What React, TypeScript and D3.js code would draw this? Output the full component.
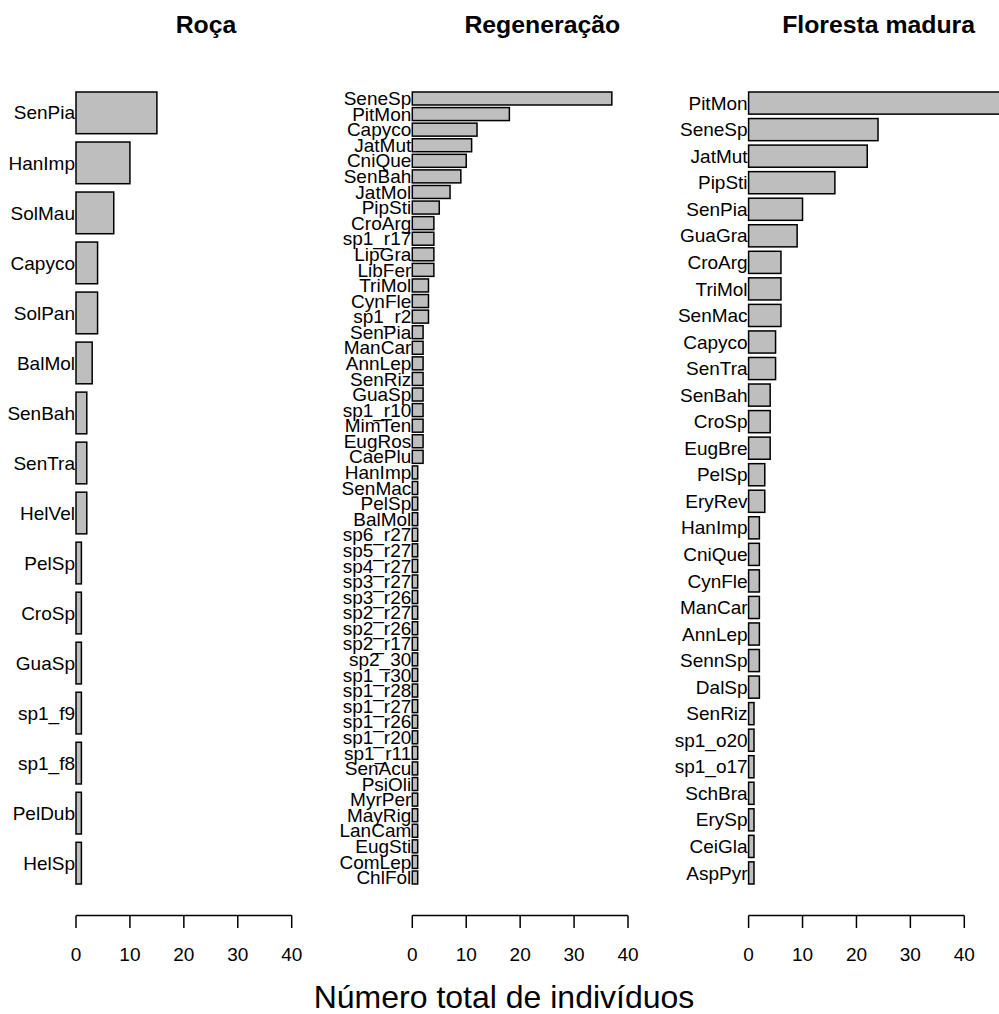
import React from "react";
import * as d3 from "d3";

const rocaSpecies = ["SenPia","HanImp","SolMau","Capyco","SolPan","BalMol","SenBah","SenTra","HelVel","PelSp","CroSp","GuaSp","sp1_f9","sp1_f8","PelDub","HelSp"];
const rocaValues = [15,10,7,4,4,3,2,2,2,1,1,1,1,1,1,1];

const regenSpecies = ["SeneSp","PitMon","Capyco","JatMut","CniQue","SenBah","JatMol","PipSti","CroArg","sp1_r17","LipGra","LibFer","TriMol","CynFle","sp1_r2","SenPia","ManCar","AnnLep","SenRiz","GuaSp","sp1_r10","MimTen","EugRos","CaePlu","HanImp","SenMac","PelSp","BalMol","sp6_r27","sp5_r27","sp4_r27","sp3_r27","sp3_r26","sp2_r27","sp2_r26","sp2_r17","sp2_30","sp1_r30","sp1_r28","sp1_r27","sp1_r26","sp1_r20","sp1_r11","SenAcu","PsiOli","MyrPer","MayRig","LanCam","EugSti","ComLep","ChlFol"];
const regenValues = [37,18,12,11,10,9,7,5,4,4,4,4,3,3,3,2,2,2,2,2,2,2,2,2,1,1,1,1,1,1,1,1,1,1,1,1,1,1,1,1,1,1,1,1,1,1,1,1,1,1,1];

const florestaSpecies = ["PitMon","SeneSp","JatMut","PipSti","SenPia","GuaGra","CroArg","TriMol","SenMac","Capyco","SenTra","SenBah","CroSp","EugBre","PelSp","EryRev","HanImp","CniQue","CynFle","ManCar","AnnLep","SennSp","DalSp","SenRiz","sp1_o20","sp1_o17","SchBra","ErySp","CeiGla","AspPyr"];
const florestaValues = [50,24,22,16,10,9,6,6,6,5,5,4,4,4,3,3,2,2,2,2,2,2,2,1,1,1,1,1,1,1];

const panelTitles = ["Roça","Regeneração","Floresta madura"];
const xTicks = [0,10,20,30,40];
const xLabel = "Número total de indivíduos";

const panels = [
  { title: panelTitles[0], species: rocaSpecies, values: rocaValues },
  { title: panelTitles[1], species: regenSpecies, values: regenValues },
  { title: panelTitles[2], species: florestaSpecies, values: florestaValues },
];

const FONT = "'Liberation Sans', Arial, Helvetica, sans-serif";
const W = 999;
const H = 1014;

function Panel({ idx, title, species, values }: { idx: number; title: string; species: string[]; values: number[] }) {
  const x0 = 76 + idx * 336.3;
  const x = d3.scaleLinear().domain([0, 40]).range([x0, x0 + 215.7]);
  const y = d3.scaleBand<string>().domain(species).range([92, 884]).paddingInner(1 / 6).paddingOuter(0);
  const axisY = 915.5;
  return (
    <g>
      <text x={x0 + 130} y={33} textAnchor="middle" fontFamily={FONT} fontWeight="bold" fontSize={24.8}>{title}</text>
      {species.map((s, i) => (
        <g key={s + i}>
          <rect x={x(0)} y={y(s)} width={x(values[i]) - x(0)} height={y.bandwidth()} fill="#bebebe" stroke="#000" strokeWidth={1.5} />
          <text x={x(0) - 1} y={(y(s) as number) + y.bandwidth() / 2} dy="0.35em" textAnchor="end" fontFamily={FONT} fontSize={19}>{s}</text>
        </g>
      ))}
      <line x1={x(0)} x2={x(40)} y1={axisY} y2={axisY} stroke="#000" strokeWidth={1.5} />
      {xTicks.map((t) => (
        <g key={t}>
          <line x1={x(t)} x2={x(t)} y1={axisY} y2={axisY + 12.5} stroke="#000" strokeWidth={1.5} />
          <text x={x(t)} y={961} textAnchor="middle" fontFamily={FONT} fontSize={19}>{t}</text>
        </g>
      ))}
    </g>
  );
}

export default function App() {
  return (
    <svg width={W} height={H} style={{ position: "absolute", left: 0, top: 0, overflow: "hidden", background: "#fff" }}>
      <rect x={0} y={0} width={W} height={H} fill="#fff" />
      {panels.map((p, i) => (
        <Panel key={i} idx={i} title={p.title} species={p.species} values={p.values} />
      ))}
      <text x={504} y={1008} textAnchor="middle" fontFamily={FONT} fontSize={32}>{xLabel}</text>
    </svg>
  );
}
